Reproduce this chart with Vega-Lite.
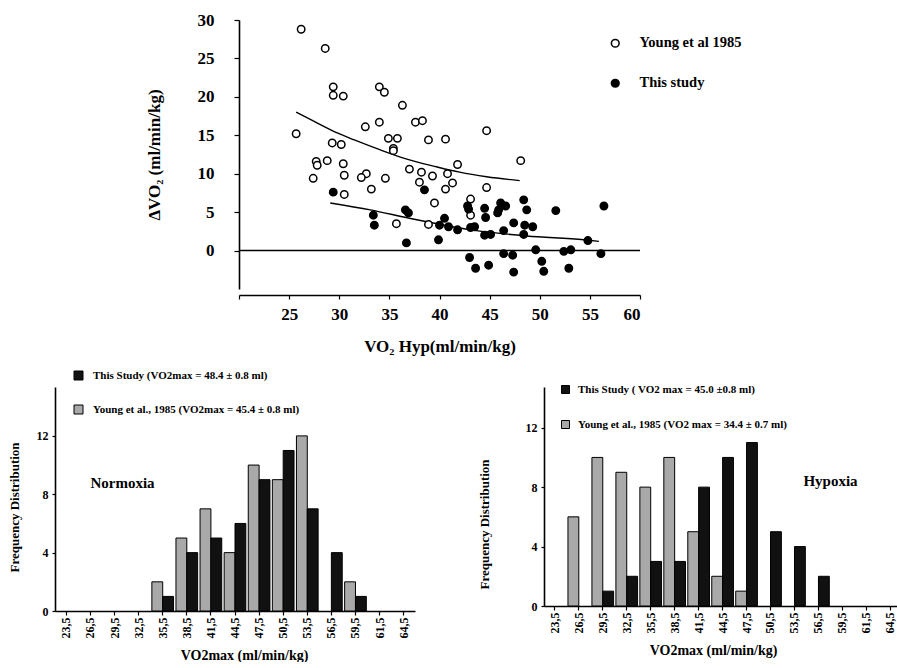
{
  "$schema": "https://vega.github.io/schema/vega-lite/v6.json",
  "padding": {"left": 8, "top": 11, "right": 0, "bottom": 0},
  "background": "white",
  "config": {
    "font": "Liberation Serif",
    "view": {"stroke": null},
    "axis": {
      "labelFont": "Liberation Serif", "titleFont": "Liberation Serif",
      "labelFontWeight": "bold", "titleFontWeight": "bold",
      "labelColor": "black", "titleColor": "black",
      "domainColor": "black", "tickColor": "black",
      "grid": false, "domainWidth": 1.6, "tickWidth": 1.2
    },
    "legend": {"labelFont": "Liberation Serif"}
  },
  "vconcat": [
    {
      "width": 401,
      "height": 269,
      "layer": [
        {
          "data": {"values": [{"y": 0}]},
          "mark": {"type": "rule", "color": "black", "strokeWidth": 1.6},
          "encoding": {"y": {"field": "y", "type": "quantitative"}}
        },
        {
          "data": {"values": [
            {"curve": "Young", "x": 25.7, "y": 18.0},
            {"curve": "Young", "x": 27.5, "y": 16.8},
            {"curve": "Young", "x": 29.8, "y": 15.3},
            {"curve": "Young", "x": 31.5, "y": 14.4},
            {"curve": "Young", "x": 34.1, "y": 13.1},
            {"curve": "Young", "x": 36.5, "y": 12.0},
            {"curve": "Young", "x": 39.7, "y": 10.9},
            {"curve": "Young", "x": 42.0, "y": 10.2},
            {"curve": "Young", "x": 44.7, "y": 9.6},
            {"curve": "Young", "x": 48.0, "y": 9.1},
            {"curve": "This", "x": 29.1, "y": 6.2},
            {"curve": "This", "x": 33.1, "y": 5.3},
            {"curve": "This", "x": 37.0, "y": 4.2},
            {"curve": "This", "x": 40.5, "y": 3.3},
            {"curve": "This", "x": 43.7, "y": 2.6},
            {"curve": "This", "x": 48.7, "y": 1.9},
            {"curve": "This", "x": 54.4, "y": 1.4},
            {"curve": "This", "x": 55.9, "y": 1.2}
          ]},
          "mark": {"type": "line", "color": "black", "strokeWidth": 1.4, "interpolate": "monotone"},
          "encoding": {
            "x": {"field": "x", "type": "quantitative"},
            "y": {"field": "y", "type": "quantitative"},
            "detail": {"field": "curve"}
          }
        },
        {
          "data": {"values": [
            {"series": "Young et al 1985", "x": 26.2, "y": 28.8},
            {"series": "Young et al 1985", "x": 28.6, "y": 26.3},
            {"series": "Young et al 1985", "x": 29.4, "y": 21.3},
            {"series": "Young et al 1985", "x": 29.4, "y": 20.2},
            {"series": "Young et al 1985", "x": 30.4, "y": 20.1},
            {"series": "Young et al 1985", "x": 34.0, "y": 21.3},
            {"series": "Young et al 1985", "x": 34.5, "y": 20.6},
            {"series": "Young et al 1985", "x": 36.3, "y": 18.9},
            {"series": "Young et al 1985", "x": 25.7, "y": 15.2},
            {"series": "Young et al 1985", "x": 32.6, "y": 16.1},
            {"series": "Young et al 1985", "x": 34.0, "y": 16.7},
            {"series": "Young et al 1985", "x": 37.6, "y": 16.7},
            {"series": "Young et al 1985", "x": 38.3, "y": 16.9},
            {"series": "Young et al 1985", "x": 34.9, "y": 14.6},
            {"series": "Young et al 1985", "x": 35.8, "y": 14.6},
            {"series": "Young et al 1985", "x": 38.9, "y": 14.4},
            {"series": "Young et al 1985", "x": 40.6, "y": 14.5},
            {"series": "Young et al 1985", "x": 44.7, "y": 15.6},
            {"series": "Young et al 1985", "x": 29.3, "y": 14.0},
            {"series": "Young et al 1985", "x": 30.2, "y": 13.8},
            {"series": "Young et al 1985", "x": 35.4, "y": 13.3},
            {"series": "Young et al 1985", "x": 35.4, "y": 13.0},
            {"series": "Young et al 1985", "x": 27.7, "y": 11.6},
            {"series": "Young et al 1985", "x": 27.8, "y": 11.1},
            {"series": "Young et al 1985", "x": 28.8, "y": 11.7},
            {"series": "Young et al 1985", "x": 30.4, "y": 11.3},
            {"series": "Young et al 1985", "x": 41.8, "y": 11.2},
            {"series": "Young et al 1985", "x": 48.1, "y": 11.7},
            {"series": "Young et al 1985", "x": 27.4, "y": 9.4},
            {"series": "Young et al 1985", "x": 30.5, "y": 9.8},
            {"series": "Young et al 1985", "x": 32.7, "y": 10.0},
            {"series": "Young et al 1985", "x": 32.2, "y": 9.5},
            {"series": "Young et al 1985", "x": 34.6, "y": 9.4},
            {"series": "Young et al 1985", "x": 33.2, "y": 8.0},
            {"series": "Young et al 1985", "x": 37.0, "y": 10.6},
            {"series": "Young et al 1985", "x": 38.2, "y": 10.2},
            {"series": "Young et al 1985", "x": 39.3, "y": 9.7},
            {"series": "Young et al 1985", "x": 38.0, "y": 8.9},
            {"series": "Young et al 1985", "x": 40.8, "y": 10.0},
            {"series": "Young et al 1985", "x": 41.3, "y": 8.8},
            {"series": "Young et al 1985", "x": 40.6, "y": 8.0},
            {"series": "Young et al 1985", "x": 44.7, "y": 8.2},
            {"series": "Young et al 1985", "x": 30.5, "y": 7.3},
            {"series": "Young et al 1985", "x": 39.5, "y": 6.2},
            {"series": "Young et al 1985", "x": 43.1, "y": 6.7},
            {"series": "Young et al 1985", "x": 43.1, "y": 4.6},
            {"series": "Young et al 1985", "x": 35.7, "y": 3.5},
            {"series": "Young et al 1985", "x": 38.9, "y": 3.4},
            {"series": "This study", "x": 29.4, "y": 7.6},
            {"series": "This study", "x": 33.4, "y": 4.6},
            {"series": "This study", "x": 33.5, "y": 3.3},
            {"series": "This study", "x": 36.6, "y": 5.3},
            {"series": "This study", "x": 36.9, "y": 4.9},
            {"series": "This study", "x": 36.7, "y": 1.0},
            {"series": "This study", "x": 38.5, "y": 7.9},
            {"series": "This study", "x": 39.9, "y": 1.4},
            {"series": "This study", "x": 40.0, "y": 3.3},
            {"series": "This study", "x": 40.5, "y": 4.2},
            {"series": "This study", "x": 40.9, "y": 3.1},
            {"series": "This study", "x": 41.8, "y": 2.7},
            {"series": "This study", "x": 42.8, "y": 5.8},
            {"series": "This study", "x": 42.9, "y": 5.4},
            {"series": "This study", "x": 43.1, "y": 3.0},
            {"series": "This study", "x": 43.5, "y": 3.1},
            {"series": "This study", "x": 43.0, "y": -0.9},
            {"series": "This study", "x": 43.6, "y": -2.3},
            {"series": "This study", "x": 44.5, "y": 5.5},
            {"series": "This study", "x": 44.6, "y": 4.3},
            {"series": "This study", "x": 44.5, "y": 2.0},
            {"series": "This study", "x": 45.1, "y": 2.1},
            {"series": "This study", "x": 44.9, "y": -1.9},
            {"series": "This study", "x": 45.9, "y": 5.3},
            {"series": "This study", "x": 46.1, "y": 6.2},
            {"series": "This study", "x": 46.6, "y": 5.8},
            {"series": "This study", "x": 45.8, "y": 4.9},
            {"series": "This study", "x": 46.4, "y": 2.6},
            {"series": "This study", "x": 46.4, "y": -0.4},
            {"series": "This study", "x": 47.3, "y": -0.6},
            {"series": "This study", "x": 47.4, "y": -2.8},
            {"series": "This study", "x": 47.4, "y": 3.6},
            {"series": "This study", "x": 48.4, "y": 6.6},
            {"series": "This study", "x": 48.7, "y": 5.3},
            {"series": "This study", "x": 48.5, "y": 3.3},
            {"series": "This study", "x": 49.3, "y": 3.1},
            {"series": "This study", "x": 48.4, "y": 2.1},
            {"series": "This study", "x": 49.6, "y": 0.1},
            {"series": "This study", "x": 50.2, "y": -1.4},
            {"series": "This study", "x": 50.4, "y": -2.7},
            {"series": "This study", "x": 51.6, "y": 5.2},
            {"series": "This study", "x": 52.4, "y": -0.1},
            {"series": "This study", "x": 53.1, "y": 0.1},
            {"series": "This study", "x": 52.9, "y": -2.3},
            {"series": "This study", "x": 54.8, "y": 1.3},
            {"series": "This study", "x": 56.1, "y": -0.4},
            {"series": "This study", "x": 56.4, "y": 5.8}
          ]},
          "mark": {"type": "point", "filled": true, "stroke": "black", "strokeWidth": 1.5, "size": 55, "opacity": 1},
          "encoding": {
            "x": {
              "field": "x", "type": "quantitative",
              "scale": {"domain": [20, 60], "nice": false, "zero": false},
              "axis": {
                "values": [20, 22.5, 25, 27.5, 30, 32.5, 35, 37.5, 40, 42.5, 45, 47.5, 50, 52.5, 55, 57.5, 60],
                "labelExpr": "datum.value % 5 == 0 && datum.value > 20 ? datum.label : ''",
                "labelOverlap": false,
                "title": "VO₂ Hyp(ml/min/kg)",
                "offset": 6, "tickSize": 4, "labelPadding": 7, "titlePadding": 16,
                "labelFontSize": 17, "titleFontSize": 17
              }
            },
            "y": {
              "field": "y", "type": "quantitative",
              "scale": {"domain": [-5, 30], "nice": false, "zero": false},
              "axis": {
                "values": [0, 5, 10, 15, 20, 25, 30],
                "labelOverlap": false,
                "title": "ΔVO₂ (ml/min/kg)",
                "tickSize": 5, "labelPadding": 20, "titlePadding": 34,
                "labelFontSize": 17, "titleFontSize": 17
              }
            },
            "fill": {
              "field": "series", "type": "nominal",
              "scale": {"domain": ["Young et al 1985", "This study"], "range": ["white", "black"]},
              "legend": {
                "orient": "none", "legendX": 369, "legendY": 16, "title": null,
                "symbolType": "circle", "symbolSize": 60, "symbolStrokeColor": "black", "symbolStrokeWidth": 1.5,
                "labelFontSize": 14.5, "labelFontWeight": "bold", "labelColor": "black",
                "rowPadding": 24, "labelOffset": 17, "padding": 0
              }
            }
          }
        }
      ]
    },
    {
      "hconcat": [
        {
          "width": 360,
          "height": 224,
          "layer": [
            {
              "data": {"values": [
                {"bin": "35,5", "series": "Young", "count": 2},
                {"bin": "35,5", "series": "This Study", "count": 1},
                {"bin": "38,5", "series": "Young", "count": 5},
                {"bin": "38,5", "series": "This Study", "count": 4},
                {"bin": "41,5", "series": "Young", "count": 7},
                {"bin": "41,5", "series": "This Study", "count": 5},
                {"bin": "44,5", "series": "Young", "count": 4},
                {"bin": "44,5", "series": "This Study", "count": 6},
                {"bin": "47,5", "series": "Young", "count": 10},
                {"bin": "47,5", "series": "This Study", "count": 9},
                {"bin": "50,5", "series": "Young", "count": 9},
                {"bin": "50,5", "series": "This Study", "count": 11},
                {"bin": "53,5", "series": "Young", "count": 12},
                {"bin": "53,5", "series": "This Study", "count": 7},
                {"bin": "56,5", "series": "This Study", "count": 4},
                {"bin": "59,5", "series": "Young", "count": 2},
                {"bin": "59,5", "series": "This Study", "count": 1}
              ]},
              "mark": {"type": "bar", "stroke": "black", "strokeWidth": 1},
              "encoding": {
                "x": {
                  "field": "bin", "type": "ordinal",
                  "scale": {"domain": ["23,5","26,5","29,5","32,5","35,5","38,5","41,5","44,5","47,5","50,5","53,5","56,5","59,5","61,5","64,5"], "paddingInner": 0.1, "paddingOuter": 0.02},
                  "axis": {"title": "VO2max  (ml/min/kg)", "titleX": 189, "labelAngle": 270, "labelFontSize": 12, "titleFontSize": 14, "tickSize": 4, "labelPadding": 2, "titlePadding": 10}
                },
                "xOffset": {"field": "series", "type": "nominal", "sort": ["Young", "This Study"]},
                "y": {
                  "field": "count", "type": "quantitative",
                  "scale": {"domain": [0, 15.35], "nice": false},
                  "axis": {"values": [0, 2, 4, 6, 8, 10, 12, 14], "title": "Frequency Distribution", "titleY": 120, "labelFontSize": 12, "titleFontSize": 13, "tickSize": 3, "labelPadding": 4, "titlePadding": 15}
                },
                "fill": {
                  "field": "series", "type": "nominal",
                  "scale": {"domain": ["This Study", "Young"], "range": ["#111111", "#a9a9a9"]},
                  "legend": {
                    "orient": "none", "legendX": 18, "legendY": -17, "title": null,
                    "symbolType": "square", "symbolSize": 81, "symbolStrokeColor": "black", "symbolStrokeWidth": 1,
                    "labelFontSize": 11, "labelFontWeight": "bold", "labelColor": "black", "labelLimit": 400,
                    "rowPadding": 21, "labelOffset": 9, "padding": 0,
                    "labelExpr": "datum.label == 'This Study' ? 'This Study (VO2max = 48.4 ± 0.8 ml)' : 'Young et al., 1985 (VO2max = 45.4 ± 0.8 ml)'"
                  }
                }
              }
            },
            {
              "data": {"values": [{}]},
              "mark": {"type": "text", "align": "left", "baseline": "middle", "fontSize": 15, "fontWeight": "bold", "font": "Liberation Serif", "color": "black"},
              "encoding": {
                "x": {"datum": "26,5", "type": "ordinal"},
                "y": {"datum": 8.8, "type": "quantitative"},
                "text": {"value": "Normoxia"}
              }
            }
          ]
        },
        {
          "width": 382,
          "height": 219,
          "layer": [
            {
              "data": {"values": [
                {"bin": "26,5", "series": "Young", "count": 6},
                {"bin": "29,5", "series": "Young", "count": 10},
                {"bin": "29,5", "series": "This Study", "count": 1},
                {"bin": "32,5", "series": "Young", "count": 9},
                {"bin": "32,5", "series": "This Study", "count": 2},
                {"bin": "35,5", "series": "Young", "count": 8},
                {"bin": "35,5", "series": "This Study", "count": 3},
                {"bin": "38,5", "series": "Young", "count": 10},
                {"bin": "38,5", "series": "This Study", "count": 3},
                {"bin": "41,5", "series": "Young", "count": 5},
                {"bin": "41,5", "series": "This Study", "count": 8},
                {"bin": "44,5", "series": "Young", "count": 2},
                {"bin": "44,5", "series": "This Study", "count": 10},
                {"bin": "47,5", "series": "Young", "count": 1},
                {"bin": "47,5", "series": "This Study", "count": 11},
                {"bin": "50,5", "series": "This Study", "count": 5},
                {"bin": "53,5", "series": "This Study", "count": 4},
                {"bin": "56,5", "series": "This Study", "count": 2}
              ]},
              "mark": {"type": "bar", "stroke": "black", "strokeWidth": 1},
              "encoding": {
                "x": {
                  "field": "bin", "type": "ordinal",
                  "scale": {"domain": ["23,5","26,5","29,5","32,5","35,5","38,5","41,5","44,5","47,5","50,5","53,5","56,5","59,5","61,5","64,5"], "paddingInner": 0.1, "paddingOuter": 0.52, "align": 0},
                  "axis": {"title": "VO2max  (ml/min/kg)", "titleX": 169, "labelAngle": 270, "labelFontSize": 12, "titleFontSize": 14, "tickSize": 4, "labelPadding": 2, "titlePadding": 10}
                },
                "xOffset": {"field": "series", "type": "nominal", "sort": ["Young", "This Study"]},
                "y": {
                  "field": "count", "type": "quantitative",
                  "scale": {"domain": [0, 14.74], "nice": false},
                  "axis": {"values": [0, 2, 4, 6, 8, 10, 12, 14], "title": "Frequency Distribution", "titleY": 137, "labelFontSize": 12, "titleFontSize": 13, "tickSize": 3, "labelPadding": 4, "titlePadding": 34}
                },
                "fill": {
                  "field": "series", "type": "nominal",
                  "scale": {"domain": ["This Study", "Young"], "range": ["#111111", "#a9a9a9"]},
                  "legend": {
                    "orient": "none", "legendX": 16, "legendY": -3, "title": null,
                    "symbolType": "square", "symbolSize": 64, "symbolStrokeColor": "black", "symbolStrokeWidth": 1,
                    "labelFontSize": 11, "labelFontWeight": "bold", "labelColor": "black", "labelLimit": 400,
                    "rowPadding": 22, "labelOffset": 7, "padding": 0,
                    "labelExpr": "datum.label == 'This Study' ? 'This Study ( VO2 max = 45.0 ±0.8 ml)' : 'Young et al., 1985 (VO2 max = 34.4 ± 0.7 ml)'"
                  }
                }
              }
            },
            {
              "data": {"values": [{}]},
              "mark": {"type": "text", "align": "left", "baseline": "middle", "fontSize": 15, "fontWeight": "bold", "font": "Liberation Serif", "color": "black", "dx": 9},
              "encoding": {
                "x": {"datum": "53,5", "type": "ordinal"},
                "y": {"datum": 8.4, "type": "quantitative"},
                "text": {"value": "Hypoxia"}
              }
            }
          ]
        }
      ],
      "spacing": 63,
      "resolve": {"scale": {"fill": "independent"}, "legend": {"fill": "independent"}}
    }
  ],
  "spacing": 16,
  "center": true,
  "resolve": {"scale": {"fill": "independent"}, "legend": {"fill": "independent"}}
}
